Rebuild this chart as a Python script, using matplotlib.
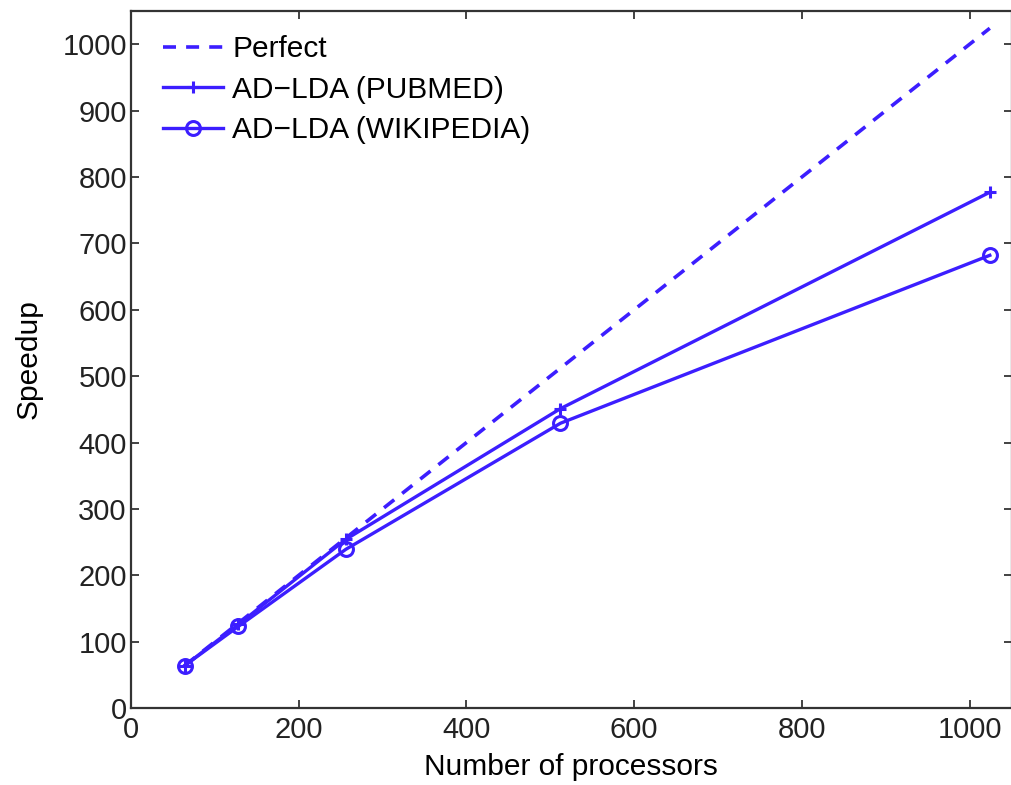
import matplotlib
matplotlib.use("Agg")
import matplotlib.pyplot as plt

# dados
processors = [64, 128, 256, 512, 1024]
perfect = [64, 128, 256, 512, 1024]
pubmed = [64, 126, 254, 451, 777]
wikipedia = [64, 123, 239, 429, 682]

x_ticks = [0, 200, 400, 600, 800, 1000]
y_ticks = [0, 100, 200, 300, 400, 500, 600, 700, 800, 900, 1000]

cor = "#3c1eff"

plt.rcParams["font.family"] = ["Liberation Sans", "DejaVu Sans"]

fig = plt.figure(figsize=(10.11, 7.85), dpi=100)
ax = fig.add_axes([0.1296, 0.098, 0.871, 0.888])

ax.plot(processors, perfect, "--", color=cor, lw=2.6, dashes=(3.6, 2.8), label="Perfect")
ax.plot(processors, pubmed, "-", color=cor, lw=2.4, marker="+", ms=9, mew=2.2,
        label="AD\u2212LDA (PUBMED)")
ax.plot(processors, wikipedia, "-", color=cor, lw=2.4, marker="o", ms=10, mew=2.2,
        mfc="none", label="AD\u2212LDA (WIKIPEDIA)")

ax.set_xlim(0, 1050)
ax.set_ylim(0, 1050)
ax.set_xticks(x_ticks)
ax.set_yticks(y_ticks)
ax.tick_params(direction="in", length=6, width=1.2, labelsize=21, top=True, right=True,
               colors="#222222")
ax.tick_params(axis="x", pad=6)
ax.tick_params(axis="y", pad=3)
for s in ax.spines.values():
    s.set_linewidth(1.6)
    s.set_color("#333333")

ax.set_xlabel("Number of processors", fontsize=21.5, labelpad=6)
ax.set_ylabel("Speedup", fontsize=21.5, labelpad=14)

# legenda sem moldura, como no matlab
leg = ax.legend(loc="upper left", frameon=False, fontsize=21.5, handlelength=2.0,
                handletextpad=0.3, labelspacing=0.42, borderaxespad=0.3,
                bbox_to_anchor=(0.013, 0.995))

fig.savefig("out.png", dpi=100)
